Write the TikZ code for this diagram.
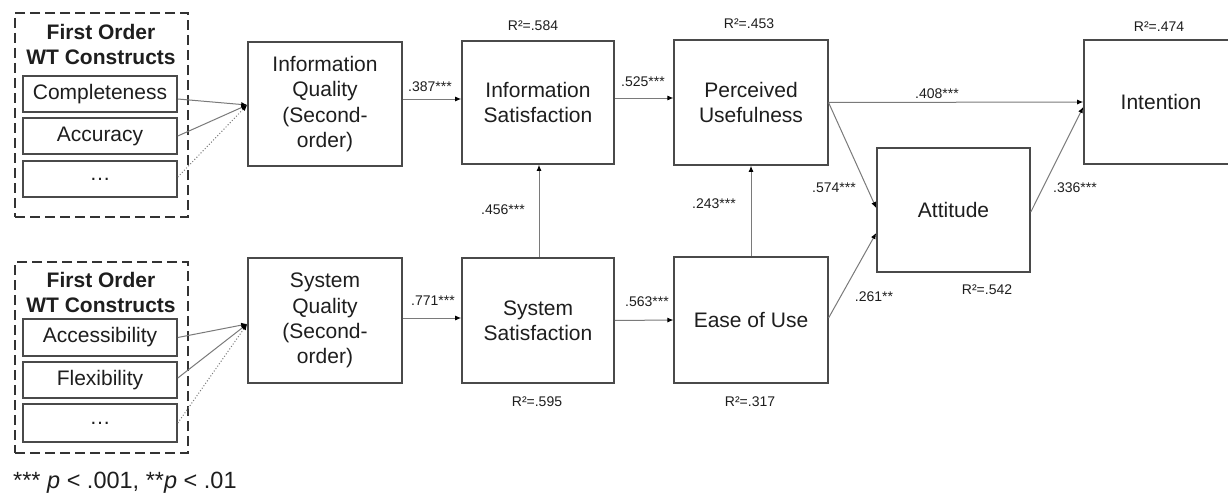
\documentclass[tikz,border=0pt]{standalone}
\usepackage{fontspec}
\setmainfont{Liberation Sans}
\usetikzlibrary{arrows.meta,calc}
\definecolor{bord}{HTML}{4A4A4A}
\definecolor{lin}{HTML}{7A7A7A}
\definecolor{txt}{HTML}{1E1E1E}
\begin{document}
\begin{tikzpicture}[x=1pt,y=-1pt,
  box/.style={draw=bord, line width=1.6pt, fill=white, inner sep=0pt, text=txt, align=center, font=\fontsize{21}{25.2}\selectfont},
  item/.style={box, minimum width=154pt, minimum height=36pt},
  grp/.style={draw=black!80, line width=2.2pt, dash pattern=on 10pt off 5pt, inner sep=0pt},
  head/.style={text=txt, align=center, inner sep=0pt, font=\bfseries\fontsize{21}{25}\selectfont},
  lab/.style={text=txt, font=\fontsize{14}{16}\selectfont, inner sep=0pt},
  arr/.style={draw=lin, line width=1pt, -{Latex[length=6pt,width=5pt,color=black]}},
  darr/.style={arr, dotted},
]
\useasboundingbox (0,0) rectangle (1228,495);
\clip (0,0) rectangle (1228,495);
\fill[white] (0,0) rectangle (1228,495);

% first-order groups
\node[grp, minimum width=173pt, minimum height=204pt] (g1) at (101.5,115) {};
\node[head] (h1) at (101,44.5) {First Order\\WT Constructs};
\node[item] (comp) at (100,94) {Completeness};
\node[item] (acc) at (100,136) {Accuracy};
\node[item] (dots1) at (100,179) {\ldots};

\node[grp, minimum width=173pt, minimum height=191pt] (g2) at (101.5,357.5) {};
\node[head] (h2) at (101,292.5) {First Order\\WT Constructs};
\node[item, minimum height=37pt] (acs) at (100,337.5) {Accessibility};
\node[item] (flex) at (100,380) {Flexibility};
\node[item, minimum height=38pt] (dots2) at (100,423) {\ldots};

% main constructs
\node[box, minimum width=154pt, minimum height=124pt] (IQ) at (325,104) {Information\\Quality\\(Second-\\order)};
\node[box, minimum width=152pt, minimum height=123pt] (IS) at (538,102.5) {Information\\Satisfaction};
\node[box, minimum width=153.5pt, minimum height=125pt] (PU) at (751,102.5) {Perceived\\Usefulness};
\node[box, minimum width=154pt, minimum height=124pt] (Int) at (1161,102) {Intention};
\node[box, minimum width=153pt, minimum height=124pt] (Att) at (953.5,210) {Attitude};
\node[box, minimum width=154pt, minimum height=125pt] (SQ) at (325,320.5) {System\\Quality\\(Second-\\order)};
\node[box, minimum width=152pt, minimum height=125pt] (SS) at (538,320.5) {System\\Satisfaction};
\node[box, minimum width=153.5pt, minimum height=126pt] (EoU) at (751,320) {Ease of Use};

% R squared
\node[lab] (r1) at (533,26) {R²=.584};
\node[lab] (r2) at (749,24) {R²=.453};
\node[lab] (r3) at (1159,27) {R²=.474};
\node[lab] (r4) at (987,290) {R²=.542};
\node[lab] (r5) at (537,402) {R²=.595};
\node[lab] (r6) at (750,402) {R²=.317};

% measurement arrows
\coordinate (iqin) at ([yshift=-1pt]IQ.west);
\coordinate (sqin) at ([yshift=-3.5pt]SQ.west);
\draw[arr] ([yshift=-5pt]comp.east) -- (iqin);
\draw[arr] (acc.east) -- (iqin);
\draw[darr] ([yshift=2pt]dots1.east) -- (iqin);
\draw[arr] (acs.east) -- (sqin);
\draw[arr] ([yshift=2pt]flex.east) -- (sqin);
\draw[darr] (dots2.east) -- (sqin);

% structural paths
\draw[arr] ([yshift=5pt]IQ.east) -- ([yshift=3.5pt]IS.west);
\node[lab] (l1) at (430,87) {.387***};
\draw[arr] ([yshift=4.5pt]IS.east) -- ([yshift=4.5pt]PU.west);
\node[lab] (l2) at (643,82) {.525***};
\draw[arr] (PU.east) -- (Int.west);
\node[lab] (l3) at (937,94) {.408***};
\draw[arr] (PU.east) -- ([yshift=2pt]Att.west);
\node[lab] (l4) at (834,188) {.574***};
\draw[arr] ([yshift=2pt]EoU.east) -- ([yshift=-23pt]Att.west);
\node[lab] (l5) at (874,297) {.261**};
\draw[arr] ([yshift=-2pt]Att.east) -- ([yshift=-5pt]Int.west);
\node[lab] (l6) at (1075,188) {.336***};
\draw[arr] ([yshift=2.5pt]SQ.east) -- ([yshift=2.5pt]SS.west);
\node[lab] (l7) at (433,301) {.771***};
\draw[arr] (SS.east) -- (EoU.west);
\node[lab] (l8) at (647,302) {.563***};
\draw[arr] ([xshift=1pt]SS.north) -- ([xshift=1pt]IS.south);
\node[lab] (l9) at (503,210) {.456***};
\draw[arr] (EoU.north) -- (PU.south);
\node[lab] (l10) at (714,204) {.243***};

% footnote
\node[text=txt, anchor=west, inner sep=0pt, font=\fontsize{23.5}{28}\selectfont] (fn) at (13,483) {*** \textit{p} < .001, **\textit{p} < .01};
\end{tikzpicture}
\end{document}
